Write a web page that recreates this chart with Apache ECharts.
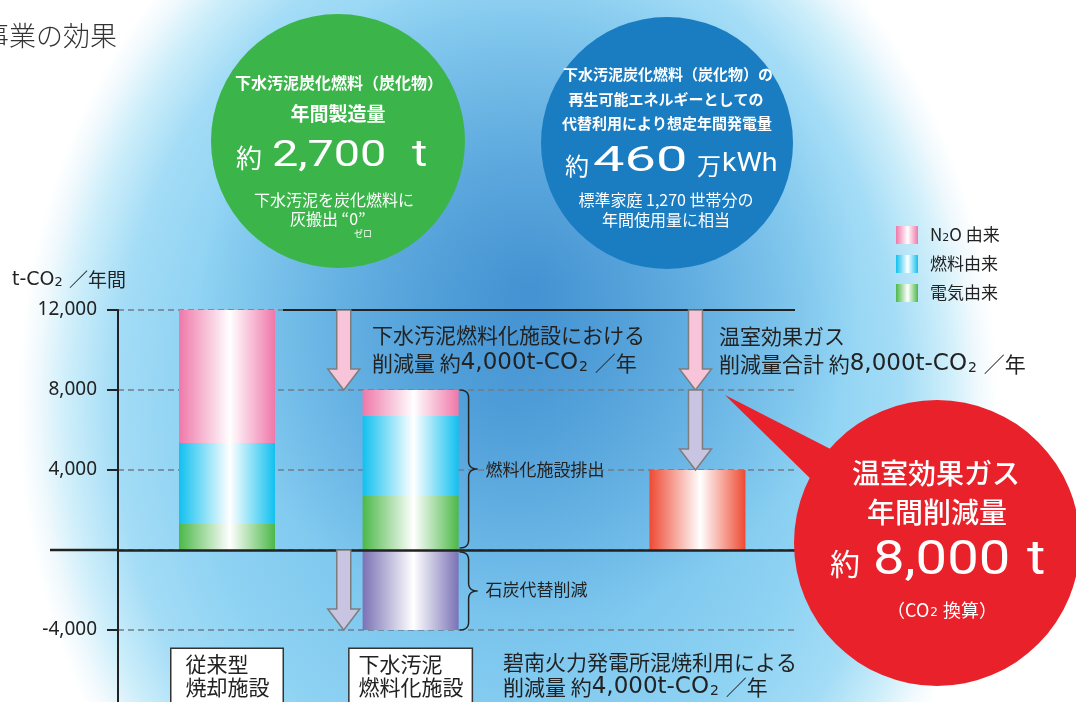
<!DOCTYPE html>
<html><head><meta charset="utf-8">
<script src="https://cdn.jsdelivr.net/npm/echarts@6/dist/echarts.min.js"></script>
<style>html,body{margin:0;padding:0;background:#fff}#c{width:1076px;height:702px}</style>
</head><body><div id="c"></div>
<script>
// ---- data ----
const categories = ['従来型\n焼却施設', '下水汚泥\n燃料化施設', '温室効果ガス削減量'];
const electricity = [1300, 2700, 0];
const fuel = [4050, 4000, 0];
const n2o = [6650, 1300, 0];
const coalOffset = [0, -4000, 0];
const netReduction = [0, 0, 4000];
const yTicks = [-8000, -4000, 0, 4000, 8000, 12000];
const legendNames = ['N₂O 由来', '燃料由来', '電気由来'];

// ---- layout ----
const SLOT_COUNT = 59;
const BAR_SLOTS = [9, 25, 50];
const ARROW_SLOT = 19;
const GRID = {left: 118, top: 310, width: 677, height: 400};
const BAR_W = 96;
const JP = '"Noto Sans CJK JP"';
const LAT = '"DejaVu Sans"';
const RB = 'Roboto';

function slotData(values) {
  const arr = new Array(SLOT_COUNT).fill(null);
  values.forEach((v, i) => { if (v) arr[BAR_SLOTS[i]] = v; });
  return arr;
}
function grad(c) {
  return new echarts.graphic.LinearGradient(0, 0, 1, 0, [
    {offset: 0, color: c}, {offset: 0.53, color: '#ffffff'}, {offset: 1, color: c}]);
}
const boxPads = [[4, 13, 18, 14], [4, 8, 18, 9]];
const shown = new Set(categories.slice(0, 2));
const xData = Array.from({length: SLOT_COUNT}, (_, k) => ({value: '_' + k}));
categories.forEach((name, i) => {
  const item = {value: name};
  if (i < 2) item.textStyle = {backgroundColor: '#fff', borderColor: '#333', borderWidth: 1.5, padding: boxPads[i]};
  xData[BAR_SLOTS[i]] = item;
});
function padLines(v) {
  const lines = v.split('\n');
  const m = Math.max(...lines.map(l => l.length));
  return lines.map(l => l + '\u3000'.repeat(m - l.length)).join('\n');
}

const chart = echarts.init(document.getElementById('c'), null, {renderer: 'canvas'});
const option = {
  backgroundColor: '#ffffff',
  animation: false,
  textStyle: {fontFamily: JP},
  grid: Object.assign({containLabel: false, outerBoundsMode: 'none'}, GRID),
  legend: {
    data: legendNames, orient: 'vertical', left: 891, top: 221, icon: 'rect',
    itemWidth: 22, itemHeight: 18, itemGap: 11, selectedMode: false,
    formatter: name => name.replace('₂', '{s|2}'),
    textStyle: {fontSize: 17, color: '#222', fontFamily: JP, padding: [0, 0, 0, 7],
      rich: {s: {fontSize: 11, color: '#222', fontFamily: LAT, padding: [6, 0, 0, 0]}}}
  },
  xAxis: {
    type: 'category', data: xData, boundaryGap: true, z: 5,
    axisLine: {show: true, onZero: true, lineStyle: {color: '#222', width: 2.5}},
    axisTick: {show: false}, splitLine: {show: false},
    axisLabel: {interval: 0, margin: 649 - (GRID.top + GRID.height), hideOverlap: false, fontSize: 21, lineHeight: 23, color: '#222', fontFamily: JP,
      formatter: v => shown.has(v) ? padLines(v) : ''}
  },
  yAxis: {
    type: 'value', min: yTicks[0], max: yTicks[yTicks.length - 1], interval: yTicks[1] - yTicks[0],
    axisLine: {show: true, lineStyle: {color: '#222', width: 2}},
    axisTick: {show: true, length: 11, lineStyle: {color: '#222', width: 2}},
    axisLabel: {fontFamily: '"Noto Sans"', fontSize: 19, color: '#222', margin: 21,
      formatter: v => (v === 0 || v <= yTicks[0]) ? '' : v.toLocaleString('en-US')},
    splitLine: {show: true, lineStyle: {color: '#6f7d8a', width: 1.5, type: [6, 4]}}
  },
  series: [
    {name: '電気由来', type: 'bar', stack: 't', barWidth: BAR_W, data: slotData(electricity), itemStyle: {color: grad('#4cb848')}},
    {name: '燃料由来', type: 'bar', stack: 't', barWidth: BAR_W, data: slotData(fuel), itemStyle: {color: grad('#12c0ef')}},
    {name: 'N₂O 由来', type: 'bar', stack: 't', barWidth: BAR_W, data: slotData(n2o), itemStyle: {color: grad('#ef78a9')}},
    {name: '石炭代替削減', type: 'bar', stack: 't', barWidth: BAR_W, data: slotData(coalOffset), itemStyle: {color: grad('#7a72b5')}},
    {name: '温室効果ガス削減量', type: 'bar', stack: 't', barWidth: BAR_W, data: slotData(netReduction), itemStyle: {color: grad('#ee4a33')}}
  ]
};
chart.setOption(option);

// ---- annotations positioned through the chart's scales ----
const P = (s, v) => chart.convertToPixel({gridIndex: 0}, [s, v]);
const Y = v => P(0, v)[1];
const X = s => P(s, 0)[0];
const gridRight = GRID.left + GRID.width;
const total1 = electricity[0] + fuel[0] + n2o[0];
const total2 = electricity[1] + fuel[1] + n2o[1];
const coal = coalOffset[1];

function arrow(cx, y0, y1, fill) {
  const sw = 7, hw = 16, hl = 21, yh = y1 - hl;
  return {type: 'polygon', z: 6, silent: true,
    shape: {points: [[cx - sw, y0], [cx + sw, y0], [cx + sw, yh], [cx + hw, yh], [cx, y1], [cx - hw, yh], [cx - sw, yh]]},
    style: {fill, stroke: '#7d7d7d', lineWidth: 1.5}};
}
function quad(p0, c, p1, n) {
  const pts = [];
  for (let i = 0; i <= n; i++) {
    const t = i / n, a = (1 - t) * (1 - t), b = 2 * (1 - t) * t, d = t * t;
    pts.push([a * p0[0] + b * c[0] + d * p1[0], a * p0[1] + b * c[1] + d * p1[1]]);
  }
  return pts;
}
function brace(x0, yA, yB) {
  const r = 8, xm = x0 + 9, xp = x0 + 18, ym = (yA + yB) / 2;
  const pts = [].concat(
    quad([x0, yA], [xm, yA], [xm, yA + r], 8),
    quad([xm, ym - r], [xm, ym], [xp, ym], 8),
    quad([xp, ym], [xm, ym], [xm, ym + r], 8),
    quad([xm, yB - r], [xm, yB], [x0, yB], 8));
  return {type: 'polyline', z: 6, silent: true, shape: {points: pts},
    style: {fill: 'none', stroke: '#222', lineWidth: 1.5}};
}
function txt(text, x, y, o = {}) {
  return {type: 'text', x, y, z: o.z || 10, scaleX: o.sx || 1, silent: true,
    style: {text, x: 0, y: 0, fill: o.fill || '#222', font: o.font || ('21px ' + JP),
      align: o.align || 'left', verticalAlign: 'middle', rich: o.rich}};
}
const annRich = {
  j: {fontFamily: JP, fontSize: 21, fill: '#222'},
  n: {fontFamily: LAT, fontSize: 23, fill: '#222'},
  s: {fontFamily: LAT, fontSize: 14, fill: '#222', padding: [8, 2, 0, 1]}
};
const W = '#ffffff';
const xL = X(ARROW_SLOT) + 2, xR = X(BAR_SLOTS[2]) - 2;
const xB2 = X(BAR_SLOTS[1]) + BAR_W / 2 + 1;

const graphics = [
  // background glow
  {type: 'rect', z: -100, silent: true, x: 508, y: 405, scaleY: 593 / 490,
    shape: {x: -490, y: -490, width: 980, height: 980},
    style: {fill: new echarts.graphic.RadialGradient(0.5, 0.5, 0.5, [
      {offset: 0, color: '#67b5e5'}, {offset: 0.4, color: '#7cc6ee'}, {offset: 0.65, color: '#8fd3f3'},
      {offset: 0.8, color: '#a3dcf6'}, {offset: 0.9, color: '#cdeefa'}, {offset: 0.96, color: '#f0f9fd'}, {offset: 1, color: '#ffffff'}])}},
  {type: 'rect', z: -99, silent: true, shape: {x: 0, y: 0, width: 1076, height: 702},
    style: {fill: new echarts.graphic.RadialGradient(530, 290, 330, [
      {offset: 0, color: 'rgba(30,110,190,0.55)'}, {offset: 0.5, color: 'rgba(30,110,190,0.28)'}, {offset: 1, color: 'rgba(30,110,190,0)'}], true)}},
  // title & axis name
  txt('事業の効果', -18, 36, {font: '300 27px ' + JP, fill: '#333'}),
  txt('{n|t-CO}{s|2}{j| ／年間}', 12, 280, {rich: {
    n: {fontFamily: LAT, fontSize: 19, fill: '#222'},
    s: {fontFamily: LAT, fontSize: 13, fill: '#222', padding: [6, 2, 0, 0]},
    j: {fontFamily: JP, fontSize: 19, fill: '#222'}}}),
  // zero line extension and top reference line
  {type: 'line', z: 6, silent: true, shape: {x1: 50, y1: Y(0), x2: GRID.left, y2: Y(0)}, style: {stroke: '#222', lineWidth: 2.5}},
  {type: 'line', z: 6, silent: true, shape: {x1: X(BAR_SLOTS[0]) + BAR_W / 2 + 8, y1: Y(total1), x2: gridRight, y2: Y(total1)}, style: {stroke: '#222', lineWidth: 2}},
  // arrows
  arrow(xL, Y(total1), Y(total2), '#f7c4da'),
  arrow(xL, Y(0), Y(coal), '#c9c4e1'),
  arrow(xR, Y(total1), Y(total2), '#f7c4da'),
  arrow(xR, Y(total2), Y(total2 + coal), '#c9c4e1'),
  // braces
  brace(xB2, Y(total2), Y(0) - 2),
  brace(xB2, Y(0) + 2, Y(coal)),
  txt('燃料化施設排出', xB2 + 26, (Y(total2) + Y(0)) / 2, {font: '17px ' + JP}),
  txt('石炭代替削減', xB2 + 26, (Y(0) + Y(coal)) / 2, {font: '17px ' + JP}),
  // annotations
  txt('下水汚泥燃料化施設における', 372, 335),
  txt('{j|削減量 約}{n|4,000t-CO}{s|2}{j| ／年}', 372, 363, {rich: annRich}),
  txt('温室効果ガス', 719, 336),
  txt('{j|削減量合計 約}{n|8,000t-CO}{s|2}{j| ／年}', 719, 364, {rich: annRich}),
  txt('碧南火力発電所混焼利用による', 503, 662),
  txt('{j|削減量 約}{n|4,000t-CO}{s|2}{j| ／年}', 503, 687, {rich: annRich}),
  // green circle
  {type: 'circle', z: 8, silent: true, shape: {cx: 338, cy: 141, r: 127}, style: {fill: '#3bb54a'}},
  txt('下水汚泥炭化燃料（炭化物）', 339, 83, {fill: W, font: 'bold 16px ' + JP, align: 'center'}),
  txt('年間製造量', 338, 114, {fill: W, font: 'bold 19px ' + JP, align: 'center'}),
  txt('約', 236, 158, {fill: W, font: '26px ' + JP}),
  txt('2,700', 272, 157, {fill: W, font: '36px ' + RB, sx: 1.3}),
  txt('t', 412, 157, {fill: W, font: '36px ' + RB, sx: 1.3}),
  txt('下水汚泥を炭化燃料に', 334, 200, {fill: W, font: '16px ' + JP, align: 'center'}),
  txt('灰搬出 “0”', 290, 219, {fill: W, font: '16px ' + JP}),
  txt('ゼロ', 363, 234, {fill: W, font: '9px ' + JP, align: 'center'}),
  // blue circle
  {type: 'circle', z: 8, silent: true, shape: {cx: 667, cy: 143, r: 126}, style: {fill: '#1a7cc1'}},
  txt('下水汚泥炭化燃料（炭化物）の', 668, 74, {fill: W, font: 'bold 15px ' + JP, align: 'center'}),
  txt('再生可能エネルギーとしての', 666, 99, {fill: W, font: 'bold 15px ' + JP, align: 'center'}),
  txt('代替利用により想定年間発電量', 667, 123, {fill: W, font: 'bold 15px ' + JP, align: 'center'}),
  txt('約', 565, 166, {fill: W, font: '24px ' + JP}),
  txt('460', 593, 162, {fill: W, font: '35px ' + RB, sx: 1.6}),
  txt('万', 697, 166, {fill: W, font: '24px ' + JP}),
  txt('kWh', 722, 164, {fill: W, font: '26px ' + RB, sx: 1.1}),
  txt('標準家庭 1,270 世帯分の', 666, 200, {fill: W, font: '16px ' + JP, align: 'center'}),
  txt('年間使用量に相当', 666, 220, {fill: W, font: '16px ' + JP, align: 'center'}),
  // red callout
  {type: 'polygon', z: 8, silent: true, shape: {points: [[725, 395], [848, 458], [820, 488]]}, style: {fill: '#e8212a'}},
  {type: 'circle', z: 8, silent: true, shape: {cx: 937, cy: 543, r: 143}, style: {fill: '#e8212a'}},
  txt('温室効果ガス', 936, 473, {fill: W, font: '500 28px ' + JP, align: 'center'}),
  txt('年間削減量', 937, 512, {fill: W, font: '500 28px ' + JP, align: 'center'}),
  txt('約', 830, 564, {fill: W, font: '30px ' + JP}),
  txt('8,000', 873, 562, {fill: W, font: '48px ' + RB, sx: 1.17}),
  txt('t', 1027, 562, {fill: W, font: '48px ' + RB, sx: 1.17}),
  txt('（CO{s|2} 換算）', 942, 610, {fill: W, font: '18px ' + JP, align: 'center',
    rich: {s: {fontFamily: LAT, fontSize: 12, fill: W, padding: [6, 1, 0, 1]}}})
];
chart.setOption({graphic: graphics});
</script></body></html>
